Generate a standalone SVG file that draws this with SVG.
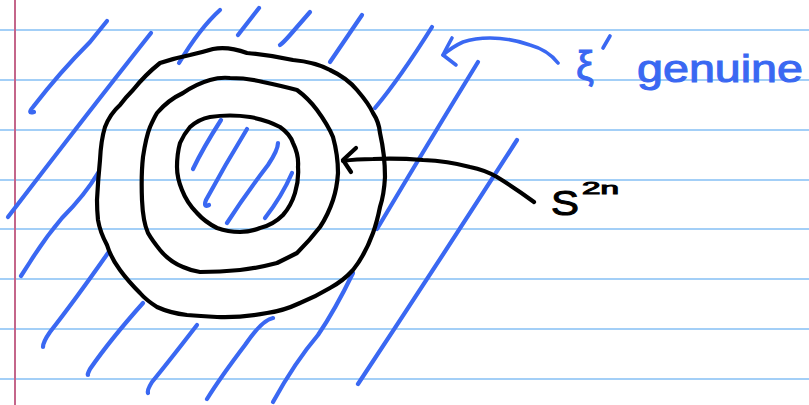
<svg xmlns="http://www.w3.org/2000/svg" width="809" height="405" viewBox="0 0 809 405">
<style>
.rule{stroke:#a3cff7;stroke-width:2}
.margin{stroke:#c4668a;stroke-width:2}
.hatch{fill:none;stroke:#3a68f2;stroke-width:4.2;stroke-linecap:round;stroke-linejoin:round}
.ink{fill:none;stroke:#000;stroke-width:4.2;stroke-linecap:round;stroke-linejoin:round}
.blue{fill:none;stroke:#3a68f2;stroke-width:3.6;stroke-linecap:round;stroke-linejoin:round}
.lblue{font-family:"Liberation Sans",Arial,sans-serif;fill:#3a68f2;stroke:#3a68f2;stroke-width:1}
.lblack{font-family:"Liberation Sans",Arial,sans-serif;fill:#000;stroke:#000;stroke-width:1}
</style>
<rect width="809" height="405" fill="#fff"/>
<g id="paper">
<line class="rule" x1="0" y1="30" x2="809" y2="30"/>
<line class="rule" x1="0" y1="80" x2="809" y2="80"/>
<line class="rule" x1="0" y1="130" x2="809" y2="130"/>
<line class="rule" x1="0" y1="180" x2="809" y2="180"/>
<line class="rule" x1="0" y1="229" x2="809" y2="229"/>
<line class="rule" x1="0" y1="279" x2="809" y2="279"/>
<line class="rule" x1="0" y1="329" x2="809" y2="329"/>
<line class="rule" x1="0" y1="379" x2="809" y2="379"/>
<line class="margin" x1="15" y1="0" x2="15" y2="405"/>
</g>
<g id="hatching">
<path class="hatch" d="M107,21 L90,42 Q60,72 33,107 Q27,114 34,112"/>
<path class="hatch" d="M151,33 Q90,110 8,217"/>
<path class="hatch" d="M220,10 Q200,28 179,63"/>
<path class="hatch" d="M259,8 L238,35"/>
<path class="hatch" d="M310,12 L290,35 Q283,43 280,45"/>
<path class="hatch" d="M362,15 L330,62"/>
<path class="hatch" d="M432,27 Q400,78 375,108"/>
<path class="hatch" d="M478,62 Q430,140 377,229"/>
<path class="hatch" d="M517,140 Q440,260 358,384"/>
<path class="hatch" d="M98,173 Q85,195 62,218 Q45,238 30,262 L21,276"/>
<path class="hatch" d="M108,253 Q75,300 50,332 Q43,342 43,347"/>
<path class="hatch" d="M143,303 Q110,340 90,369 Q87,375 88,375"/>
<path class="hatch" d="M197,325 Q170,360 152,382 Q147,390 148,393"/>
<path class="hatch" d="M273,318 Q262,320 245,345 Q220,378 207,399"/>
<path class="hatch" d="M353,273 Q335,310 318,335 Q295,362 273,402"/>
<path class="hatch" d="M221,120 Q203,148 193,169"/>
<path class="hatch" d="M247,129 Q225,165 206,200 Q203,208 209,205"/>
<path class="hatch" d="M278,143 Q278,150 268,165 Q245,195 227,223"/>
<path class="hatch" d="M292,173 Q282,196 265,218"/>
</g>
<g id="outer-circle">
<path class="ink" d="M213,49 Q228,46 247,53 Q270,55 293,60 Q315,62 330,70 Q347,78 357,90 Q369,104 373,113 Q379,122 380,133 Q385,155 385,177 Q384,195 380,207 Q377,222 373,233 Q365,255 353,270 Q343,281 330,288 Q315,297 300,303 Q283,311 267,313 Q240,318 217,317 Q200,316 187,315 Q170,313 157,307 Q146,300 140,293 Q128,281 120,270 Q111,258 107,245 Q100,232 98,220 Q97,210 97,200 Q98,180 100,160 Q101,140 105,127 Q110,114 120,105 Q126,97 133,90 Q145,75 160,63 Q175,58 190,55 Q203,52 213,49 Z"/>
</g>
<g id="middle-circle">
<path class="ink" d="M210,80 Q220,77 230,78 Q247,78 263,82 Q282,86 297,90 Q308,98 317,110 Q328,125 333,137 Q338,155 338,173 Q337,188 333,200 Q328,215 320,227 Q310,240 297,253 Q287,258 277,263 Q258,268 240,270 Q220,272 200,272 Q192,271 183,267 Q170,262 160,250 Q152,240 148,233 Q143,222 142,200 Q141,175 143,157 Q146,137 150,127 Q154,118 157,113 Q168,100 183,93 Q196,84 210,80 Z"/>
</g>
<g id="inner-circle">
<path class="ink" d="M210,117 Q230,114 250,117 Q267,120 280,127 Q290,134 293,143 Q299,155 298,167 Q299,180 295,193 Q291,206 283,215 Q273,225 260,228 Q250,232 240,232 Q228,232 217,228 Q205,222 197,213 Q187,203 182,190 Q177,178 177,167 Q177,154 180,143 Q184,134 190,127 Q199,119 210,117 Z"/>
</g>
<g id="connectors">
<path class="ink" d="M534,202 Q515,188 497,177 Q485,170 470,167 Q448,161 423,160 Q398,158 373,159 Q356,159 343,161"/>
<path class="ink" d="M356,148 L343,160 L351,172"/>
<path class="blue" d="M558,63 Q548,50 530,45 Q510,38 490,38 Q475,38 463,42 Q452,47 443,55"/>
<path class="blue" d="M452,38 Q446,49 443,55 L456,65"/>
</g>
<g id="labels">
<text class="lblue" x="576" y="80" font-size="40">ξ</text>
<path class="blue" d="M610,36 L603,48"/>
<text class="lblue" x="637" y="82" font-size="38" textLength="166" lengthAdjust="spacingAndGlyphs">genuine</text>
<text class="lblack" x="551" y="215" font-size="35" textLength="28" lengthAdjust="spacingAndGlyphs">S</text>
<text class="lblack" x="582" y="194" font-size="17" textLength="37" lengthAdjust="spacingAndGlyphs">2n</text>
</g>
</svg>
